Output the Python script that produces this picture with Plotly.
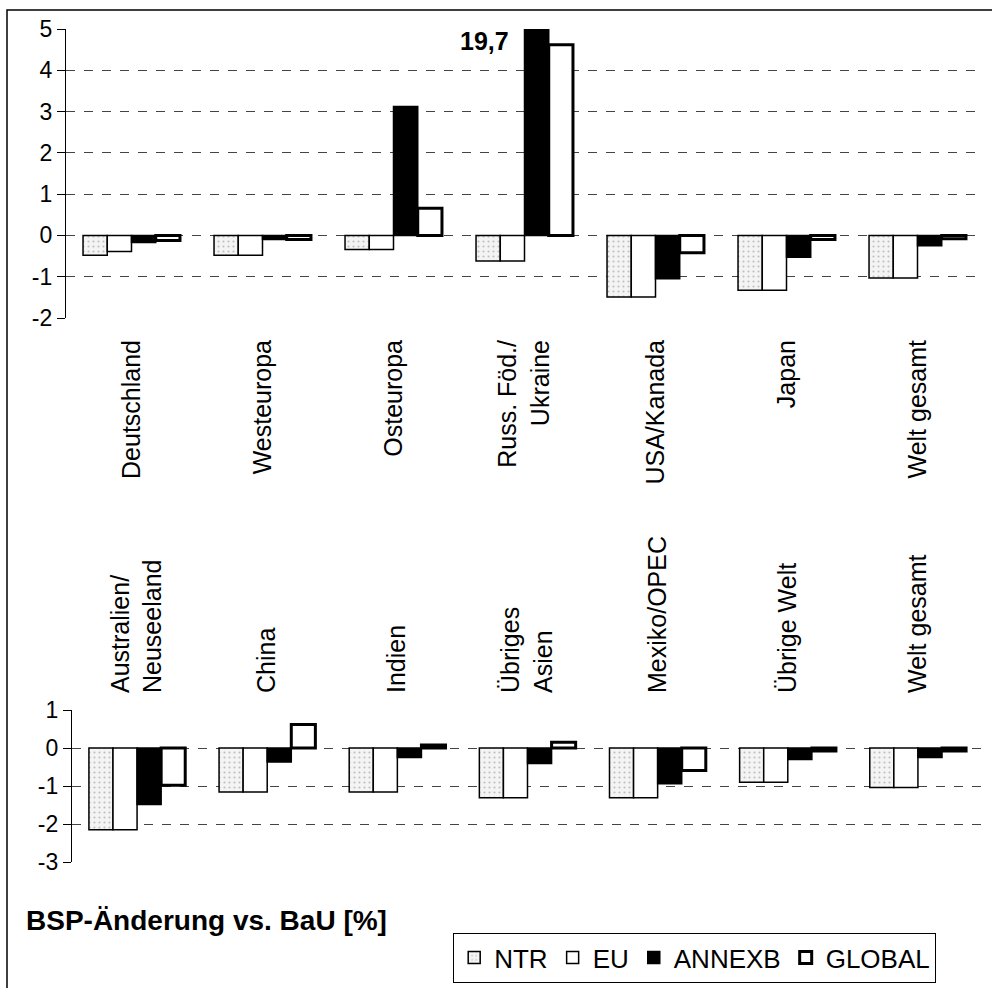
import plotly.graph_objects as go

# ---- data ----
cats_top = ["Deutschland", "Westeuropa", "Osteuropa", "Russ. Föd./<br>Ukraine",
            "USA/Kanada", "Japan", "Welt gesamt"]
ntr_top = [-0.48, -0.48, -0.34, -0.62, -1.49, -1.33, -1.03]
eu_top = [-0.39, -0.48, -0.34, -0.62, -1.49, -1.33, -1.03]
annexb_top = [-0.17, -0.10, 3.12, 19.7, -1.05, -0.53, -0.25]
global_top = [-0.12, -0.10, 0.66, 4.62, -0.42, -0.10, -0.08]

cats_bot = ["Australien/<br>Neuseeland", "China", "Indien", "Übriges<br>Asien",
            "Mexiko/OPEC", "Übrige Welt", "Welt gesamt"]
ntr_bot = [-2.15, -1.16, -1.16, -1.31, -1.31, -0.90, -1.04]
eu_bot = [-2.15, -1.16, -1.16, -1.31, -1.31, -0.90, -1.04]
annexb_bot = [-1.49, -0.37, -0.25, -0.41, -0.94, -0.30, -0.25]
global_bot = [-0.98, 0.62, 0.08, 0.15, -0.59, -0.08, -0.08]

yticks_top = [5, 4, 3, 2, 1, 0, -1, -2]
yticks_top_text = ["5", "4", "3", "2", "1", "0", "-1", "-2"]
yticks_bot = [1, 0, -1, -2, -3]
yticks_bot_text = ["1", "0", "-1", "-2", "-3"]

series_names = ["NTR", "EU", "ANNEXB", "GLOBAL"]
peak_label = "19,7"
axis_title = "BSP-Änderung vs. BaU [%]"

FONT = "Liberation Sans, Arial, sans-serif"
W, H = 992, 988

styles = {
    "NTR": dict(color="#f2f2f2", line=dict(color="black", width=1.5),
                pattern=dict(shape=".", fgcolor="#8a8a8a", bgcolor="#f4f4f4", size=5, solidity=0.15)),
    "EU": dict(color="white", line=dict(color="black", width=1.5)),
    "ANNEXB": dict(color="black", line=dict(color="black", width=1.5)),
    "GLOBAL": dict(color="white", line=dict(color="black", width=3)),
}

fig = go.Figure()
top_vals = [ntr_top, eu_top, annexb_top, global_top]
bot_vals = [ntr_bot, eu_bot, annexb_bot, global_bot]
for name, vals in zip(series_names, top_vals):
    fig.add_trace(go.Bar(x=cats_top, y=vals, name=name, marker=styles[name],
                         xaxis="x", yaxis="y", legendgroup=name))
for name, vals in zip(series_names, bot_vals):
    fig.add_trace(go.Bar(x=cats_bot, y=vals, name=name, marker=styles[name],
                         xaxis="x2", yaxis="y2", legendgroup=name, showlegend=False))

def px_x(p):
    return p / W

def px_y(p):
    return 1 - p / H

yaxis_common = dict(showline=True, linecolor="black", linewidth=1.2,
                    ticks="outside", ticklen=8, tickcolor="black",
                    showgrid=True, gridcolor="#444", griddash="dash", gridwidth=1,
                    zeroline=False, automargin=False,
                    tickfont=dict(family=FONT, size=23, color="black"))

xaxis_common = dict(tickangle=-90, showline=False, ticks="", showgrid=False,
                    automargin=False, ticklabelstandoff=16,
                    tickfont=dict(family=FONT, size=25, color="black"))

fig.update_layout(
    width=W, height=H,
    margin=dict(l=0, r=0, t=0, b=0, pad=0, autoexpand=False),
    paper_bgcolor="white", plot_bgcolor="white",
    barmode="group", bargap=0.26, bargroupgap=0,
    font=dict(family=FONT, color="black"),
    xaxis=dict(domain=[px_x(66), px_x(983)], anchor="y", **xaxis_common),
    yaxis=dict(domain=[px_y(318), px_y(29)], anchor="x", range=[-2, 5],
               tickvals=yticks_top, ticktext=yticks_top_text, **yaxis_common),
    xaxis2=dict(domain=[px_x(72), px_x(983)], anchor="y2", side="top", **xaxis_common),
    yaxis2=dict(domain=[px_y(862), px_y(710)], anchor="x2", range=[-3, 1],
                tickvals=yticks_bot, ticktext=yticks_bot_text, **yaxis_common),
    legend=dict(orientation="h", x=px_x(453), y=px_y(933), xanchor="left", yanchor="top",
                bordercolor="black", borderwidth=1.2, bgcolor="white", itemwidth=30,
                font=dict(family=FONT, size=26, color="black"), traceorder="normal"),
    showlegend=True,
)

fig.add_annotation(x=cats_top[3], y=4.7, xref="x", yref="y", text="<b>" + peak_label + "</b>",
                   showarrow=False, xanchor="right", yanchor="middle", xshift=-14,
                   font=dict(family=FONT, size=25, color="black"))
fig.add_annotation(x=px_x(24), y=px_y(920), xref="paper", yref="paper",
                   text="<b>" + axis_title + "</b>", showarrow=False,
                   xanchor="left", yanchor="middle",
                   font=dict(family=FONT, size=28, color="black"))

# outer frame of the chart
fig.add_shape(type="rect", xref="paper", yref="paper",
              x0=px_x(7), x1=1.01, y0=-0.01, y1=px_y(10),
              line=dict(color="black", width=1.5), fillcolor="rgba(0,0,0,0)")

fig.write_html("out.html", config={"displayModeBar": False},
               post_script="document.body.style.margin='0';document.body.style.overflow='hidden';")
